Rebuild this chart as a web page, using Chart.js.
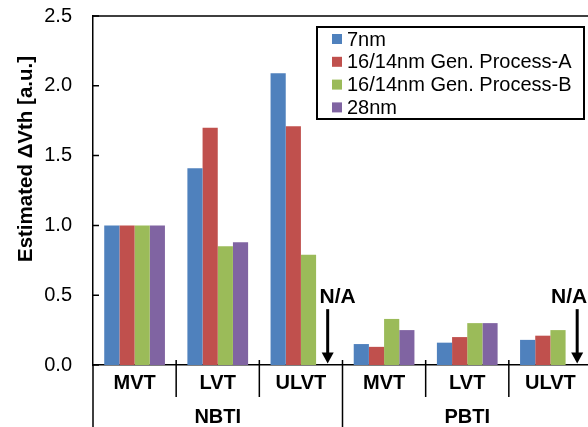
<!DOCTYPE html>
<html>
<head>
<meta charset="utf-8">
<script src="https://cdn.jsdelivr.net/npm/chart.js@4/dist/chart.umd.min.js"></script>
<style>
  html, body { margin: 0; padding: 0; background: #fff; overflow: hidden; }
  #wrap { width: 600px; height: 427px; }
</style>
</head>
<body>
<div id="wrap"><canvas id="c" width="600" height="427"></canvas></div>
<script>
// Stress groups and threshold-voltage flavours along the x axis
const groups = ['NBTI', 'PBTI'];
const categories = ['MVT', 'LVT', 'ULVT', 'MVT', 'LVT', 'ULVT'];

// Series names and normalised ΔVth values (null = not available)
const seriesNames = ['7nm', '16/14nm Gen. Process-A', '16/14nm Gen. Process-B', '28nm'];
const v7nm   = [1.00, 1.41, 2.09, 0.15, 0.16, 0.18];
const vProcA = [1.00, 1.70, 1.71, 0.13, 0.20, 0.21];
const vProcB = [1.00, 0.85, 0.79, 0.33, 0.30, 0.25];
const v28nm  = [1.00, 0.88, null, 0.25, 0.30, null];

// Value axis ticks
const yTicks = [0, 0.5, 1.0, 1.5, 2.0, 2.5];

const seriesValues = [v7nm, vProcA, vProcB, v28nm];
const seriesColors = ['#4F81BD', '#C0504D', '#9BBB59', '#8064A2'];
const FONT = "'Liberation Sans', Arial, sans-serif";

// Plot frame, inner tick marks, category separators and group labels
const frameAndGroups = {
  id: 'frameAndGroups',
  afterDraw(chart) {
    const { ctx, chartArea: a, scales: { x, y } } = chart;
    const H = chart.height;
    ctx.save();
    ctx.strokeStyle = '#000';
    ctx.lineWidth = 1.5;
    ctx.beginPath();
    ctx.moveTo(a.left, a.top); ctx.lineTo(a.right, a.top); ctx.lineTo(a.right, a.bottom);
    ctx.moveTo(a.left, a.bottom); ctx.lineTo(a.left, H);
    ctx.stroke();

    ctx.beginPath();
    y.ticks.forEach(t => {
      const py = y.getPixelForValue(t.value);
      ctx.moveTo(a.left, py); ctx.lineTo(a.left + 6, py);
    });
    ctx.stroke();

    const n = categories.length;
    const perGroup = n / groups.length;
    ctx.beginPath();
    for (let i = 1; i < n; i++) {
      const bx = (x.getPixelForValue(i - 1) + x.getPixelForValue(i)) / 2;
      ctx.moveTo(bx, a.bottom - 5);
      ctx.lineTo(bx, i % perGroup === 0 ? H : a.bottom + 32);
    }
    ctx.stroke();

    ctx.fillStyle = '#000';
    ctx.font = 'bold 20px ' + FONT;
    ctx.textAlign = 'center';
    ctx.textBaseline = 'middle';
    groups.forEach((g, gi) => {
      const cx = (x.getPixelForValue(gi * perGroup) + x.getPixelForValue(gi * perGroup + perGroup - 1)) / 2;
      ctx.fillText(g, cx, a.bottom + 52);
    });

    // rotated value-axis title
    ctx.save();
    ctx.translate(32, 159);
    ctx.rotate(-Math.PI / 2);
    ctx.textBaseline = 'alphabetic';
    ctx.font = 'bold 20.5px ' + FONT;
    ctx.fillText('Estimated ΔVth [a.u.]', 0, 0);
    ctx.restore();
    ctx.restore();
  }
};

// "N/A" marker with a down arrow in each empty bar slot
const naMarkers = {
  id: 'naMarkers',
  afterDraw(chart, args, opts) {
    const { ctx, scales: { x, y } } = chart;
    ctx.save();
    ctx.fillStyle = '#000';
    ctx.strokeStyle = '#000';
    chart.data.datasets.forEach((ds, di) => {
      const meta = chart.getDatasetMeta(di);
      ds.data.forEach((v, i) => {
        if (v !== null) return;
        const el = meta.data[i];
        const slotX = el && isFinite(el.x) ? el.x : x.getPixelForValue(i);
        const ax = slotX + 4;
        const yTop = y.getPixelForValue(opts.arrowFrom);
        const yTip = y.getPixelForValue(opts.arrowTo);
        ctx.lineWidth = 3;
        ctx.beginPath();
        ctx.moveTo(ax, yTop); ctx.lineTo(ax, yTip - 10);
        ctx.stroke();
        ctx.beginPath();
        ctx.moveTo(ax - 6, yTip - 11); ctx.lineTo(ax + 6, yTip - 11); ctx.lineTo(ax, yTip);
        ctx.closePath();
        ctx.fill();
        ctx.font = 'bold 21px ' + FONT;
        ctx.textAlign = 'center';
        ctx.textBaseline = 'alphabetic';
        const dx = (opts.textShift[i] !== undefined) ? opts.textShift[i] : 0;
        ctx.fillText('N/A', slotX + dx, y.getPixelForValue(opts.textAt));
      });
    });
    ctx.restore();
  }
};

// Boxed legend in the upper right of the plot
const boxLegend = {
  id: 'boxLegend',
  afterDraw(chart) {
    const { ctx, chartArea: a } = chart;
    const right = a.right - 8, top = a.top + 11;
    const left = right - 267, bottom = top + 92;
    ctx.save();
    ctx.fillStyle = '#fff';
    ctx.fillRect(left, top, right - left, bottom - top);
    ctx.strokeStyle = '#000';
    ctx.lineWidth = 2;
    ctx.strokeRect(left, top, right - left, bottom - top);
    ctx.font = '20px ' + FONT;
    ctx.textAlign = 'left';
    ctx.textBaseline = 'middle';
    chart.data.datasets.forEach((ds, i) => {
      const cy = top + 12 + i * 22.8;
      ctx.fillStyle = ds.backgroundColor;
      ctx.fillRect(left + 15, cy - 5, 10, 10);
      ctx.fillStyle = '#000';
      ctx.fillText(ds.label, left + 30, cy + 1);
    });
    ctx.restore();
  }
};

new Chart(document.getElementById('c'), {
  type: 'bar',
  data: {
    labels: categories,
    datasets: seriesNames.map((name, i) => ({
      label: name,
      data: seriesValues[i],
      backgroundColor: seriesColors[i],
      borderWidth: 0,
      categoryPercentage: 0.73,
      barPercentage: 1.0
    }))
  },
  options: {
    responsive: false,
    animation: false,
    devicePixelRatio: 1,
    layout: { padding: { top: 16, right: 8, left: 0, bottom: 0 } },
    plugins: {
      legend: { display: false },
      tooltip: { enabled: false },
      naMarkers: { arrowFrom: 0.40, arrowTo: 0.01, textAt: 0.445, textShift: { 2: 14, 5: -4 } }
    },
    scales: {
      x: {
        grid: { display: false, drawTicks: false },
        border: { display: true, color: '#000', width: 1.5 },
        ticks: { color: '#000', font: { family: FONT, size: 20, weight: 'bold' }, padding: 6, maxRotation: 0 },
        afterFit(s) { s.height = 62; s.paddingLeft = 0; s.paddingRight = 0; }
      },
      y: {
        min: yTicks[0],
        max: yTicks[yTicks.length - 1],
        grid: { display: false, drawTicks: false },
        border: { display: true, color: '#000', width: 1.5 },
        ticks: {
          color: '#000', padding: 21,
          font: { family: FONT, size: 20 },
          callback: v => Number(v).toFixed(1)
        },
        afterBuildTicks(s) { s.ticks = yTicks.map(v => ({ value: v })); },
        afterFit(s) { s.width = 93; s.paddingTop = 0; s.paddingBottom = 0; }
      }
    }
  },
  plugins: [frameAndGroups, naMarkers, boxLegend]
});
</script>
</body>
</html>
